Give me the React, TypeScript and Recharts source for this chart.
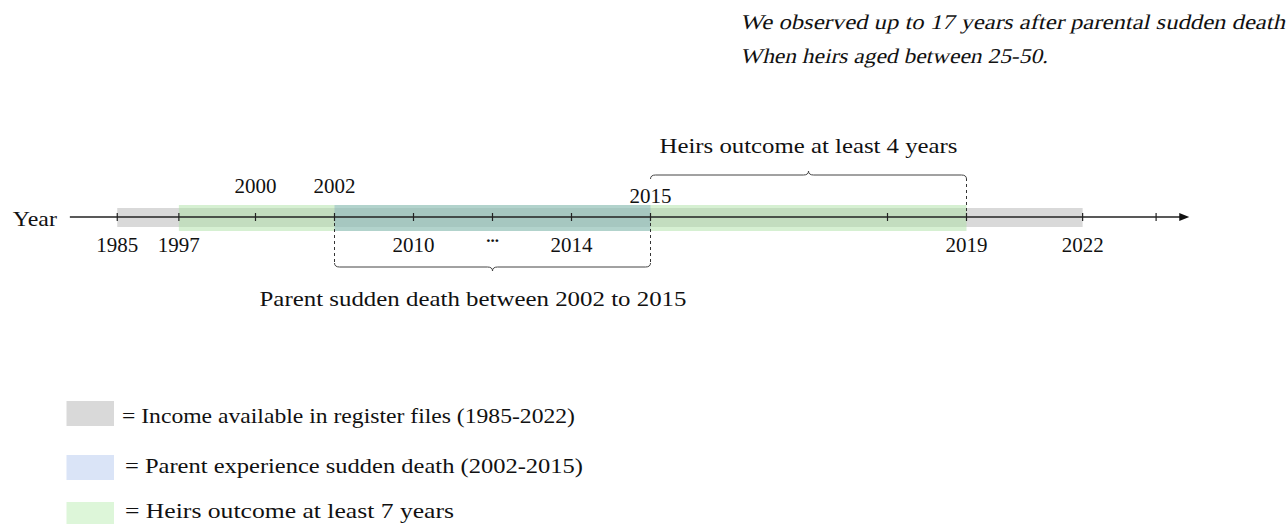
import React from 'react';
import {
  ComposedChart,
  XAxis,
  YAxis,
  ReferenceArea,
  ReferenceLine,
  ReferenceDot,
  Scatter,
} from 'recharts';

// ---------- data (schematic timeline) ----------
const yearLabels = ['1985', '1997', '2000', '2002', '2010', '...', '2014', '2015', '', '2019', '2022', ''];
const yearSlots = [-2.75, -1.97, -1, 0, 1, 2, 3, 4, 7, 8, 9.47, 10.4];

const axisStartSlot = -3.35;
const axisEndSlot = 10.82;

const periodNames = [
  'Income available in register files (1985-2022)',
  'Parent experience sudden death (2002-2015)',
  'Heirs outcome at least 7 years',
];
const periodFrom = ['1985', '2002', '1997'];
const periodTo = ['2022', '2015', '2019'];

const braceTexts = ['Heirs outcome at least 4 years', 'Parent sudden death between 2002 to 2015'];
const braceFrom = ['2015', '2002'];
const braceTo = ['2019', '2015'];

const notes = [
  'We observed up to 17 years after parental sudden death',
  'When heirs aged between 25-50.',
];

// ---------- styles ----------
const W = 1288;
const H = 524;
const FONT = "'Liberation Serif', 'Times New Roman', serif";
const FS = 21;

const periodFill = ['#d9d9d9', '#719dc2', '#ade1a5'];
const periodOpacity = [1, 0.35, 0.5];
const periodHalf = [
  [9, -10],
  [12, -14],
  [12, -14],
];
const legendFill = ['#d9d9d9', '#dae4f7', '#ddf6d9'];
const legendTextX = [122, 125, 125];
const legendTextLen = [453, 458, 329];
const legendBaseline = [423, 473, 518];
const legendSwatchTop = [401, 455, 502];
const noteLen = [545, 308];
const noteBaseline = [29, 63];
const braceTextLen = [298, 427];

const slotOf = (label: string) => yearSlots[yearLabels.indexOf(label)];

const tickData = yearSlots.map((p, i) => ({ p, y: 0, label: yearLabels[i] }));

const ABOVE = new Set(['2000', '2002']);

const TickShape = (props: any) => {
  const { cx, cy, payload } = props;
  const label: string = payload.label;
  let text: React.ReactNode = null;
  if (label === '...') {
    text = (
      <text x={cx} y={cy + 25} textAnchor="middle" fontFamily={FONT} fontSize={17} fontWeight={700} fill="#111">
        ...
      </text>
    );
  } else if (label) {
    let by = cy + 35;
    if (ABOVE.has(label)) by = cy - 24;
    if (label === '2015') by = cy - 14;
    text = (
      <text x={cx} y={by} textAnchor="middle" fontFamily={FONT} fontSize={FS} fill="#111">
        {label}
      </text>
    );
  }
  return (
    <g>
      <line x1={cx} x2={cx} y1={cy - 4} y2={cy + 4} stroke="#222" strokeWidth={1.2} />
      {text}
    </g>
  );
};

const makeBrace = (dir: 'up' | 'down', text: string, len: number, dx: number) => (props: any) => {
  const { x, y, width, height } = props;
  const r = 5;
  const mid = x + width / 2;
  const x2 = x + width;
  let tipY: number, endY: number, lineY: number, textY: number;
  if (dir === 'up') {
    tipY = y;
    endY = y + height;
    lineY = y + 4;
    textY = tipY - 18;
  } else {
    tipY = y + height;
    endY = y;
    lineY = tipY - 4;
    textY = tipY + 35;
  }
  const d = `M${x},${endY} Q${x},${lineY} ${x + r},${lineY} L${mid - r},${lineY} Q${mid},${lineY} ${mid},${tipY} Q${mid},${lineY} ${mid + r},${lineY} L${x2 - r},${lineY} Q${x2},${lineY} ${x2},${endY}`;
  return (
    <g>
      <path d={d} fill="none" stroke="#444" strokeWidth={1} />
      <text
        x={mid + dx}
        y={textY}
        textAnchor="middle"
        fontFamily={FONT}
        fontSize={FS}
        fill="#111"
        textLength={len}
        lengthAdjust="spacingAndGlyphs"
      >
        {text}
      </text>
    </g>
  );
};

const ArrowHead = (props: any) => {
  const { cx, cy } = props;
  return <path d={`M${cx},${cy} L${cx - 10},${cy - 4} L${cx - 10},${cy + 4} Z`} fill="#111" />;
};

const YearLabel = (props: any) => {
  const { cx, cy } = props;
  return (
    <text
      x={cx - 13}
      y={cy + 9}
      textAnchor="end"
      fontFamily={FONT}
      fontSize={FS}
      fill="#111"
      textLength={44}
      lengthAdjust="spacingAndGlyphs"
    >
      Year
    </text>
  );
};

export default function App() {
  return (
    <div style={{ position: 'absolute', left: 0, top: 0, width: W, height: H, background: '#fff' }}>
      <ComposedChart width={W} height={H} margin={{ top: 0, right: 5.5, bottom: 0, left: 18.5 }} data={tickData}>
        <XAxis dataKey="p" type="number" domain={[-4, 12]} hide allowDataOverflow />
        <YAxis dataKey="y" type="number" domain={[-307, 217]} hide allowDataOverflow />

        {/* gray band */}
        <ReferenceArea
          x1={slotOf(periodFrom[0])}
          x2={slotOf(periodTo[0])}
          y1={periodHalf[0][1]}
          y2={periodHalf[0][0]}
          fill={periodFill[0]}
          fillOpacity={periodOpacity[0]}
          stroke="none"
          ifOverflow="visible"
        />

        {/* axis line */}
        <ReferenceLine
          segment={[
            { x: axisStartSlot, y: 0 },
            { x: axisEndSlot - 0.1, y: 0 },
          ]}
          stroke="#222"
          strokeWidth={1.3}
          ifOverflow="visible"
        />
        <ReferenceDot x={axisEndSlot} y={0} r={0} shape={ArrowHead} ifOverflow="visible" />
        <ReferenceDot x={axisStartSlot} y={0} r={0} shape={YearLabel} ifOverflow="visible" />

        <Scatter dataKey="y" shape={TickShape} isAnimationActive={false} />

        {/* green then blue bands */}
        {[2, 1].map((k) => (
          <ReferenceArea
            key={k}
            x1={slotOf(periodFrom[k])}
            x2={slotOf(periodTo[k])}
            y1={periodHalf[k][1]}
            y2={periodHalf[k][0]}
            fill={periodFill[k]}
            fillOpacity={periodOpacity[k]}
            stroke="none"
            ifOverflow="visible"
          />
        ))}

        {/* dashed guides */}
        <ReferenceLine
          segment={[
            { x: slotOf('2002'), y: 0 },
            { x: slotOf('2002'), y: -47 },
          ]}
          stroke="#333"
          strokeDasharray="3 3"
          ifOverflow="visible"
        />
        <ReferenceLine
          segment={[
            { x: slotOf('2015'), y: 0 },
            { x: slotOf('2015'), y: -47 },
          ]}
          stroke="#333"
          strokeDasharray="3 3"
          ifOverflow="visible"
        />
        <ReferenceLine
          segment={[
            { x: slotOf('2019'), y: 0 },
            { x: slotOf('2019'), y: 38 },
          ]}
          stroke="#333"
          strokeDasharray="3 3"
          ifOverflow="visible"
        />

        {/* braces */}
        <ReferenceArea
          x1={slotOf(braceFrom[0])}
          x2={slotOf(braceTo[0])}
          y1={38}
          y2={46}
          ifOverflow="visible"
          shape={makeBrace('up', braceTexts[0], braceTextLen[0], 0)}
        />
        <ReferenceArea
          x1={slotOf(braceFrom[1])}
          x2={slotOf(braceTo[1])}
          y1={-54}
          y2={-46}
          ifOverflow="visible"
          shape={makeBrace('down', braceTexts[1], braceTextLen[1], -19.5)}
        />
      </ComposedChart>

      <svg
        width={W}
        height={H}
        style={{ position: 'absolute', left: 0, top: 0, pointerEvents: 'none' }}
      >
        {notes.map((t, i) => (
          <g key={t} transform={`translate(740, ${noteBaseline[i]}) skewX(-13)`}>
            <text
              x={0}
              y={0}
              fontFamily={FONT}
              fontSize={FS}
              fill="#111"
              textLength={noteLen[i]}
              lengthAdjust="spacingAndGlyphs"
            >
              {t}
            </text>
          </g>
        ))}
        {periodNames.map((name, i) => (
          <g key={name}>
            <rect x={66.5} y={legendSwatchTop[i]} width={47.5} height={25} fill={legendFill[i]} />
            <text
              x={legendTextX[i]}
              y={legendBaseline[i]}
              fontFamily={FONT}
              fontSize={FS}
              fill="#111"
              textLength={legendTextLen[i]}
              lengthAdjust="spacingAndGlyphs"
            >
              {'= ' + name}
            </text>
          </g>
        ))}
      </svg>
    </div>
  );
}
